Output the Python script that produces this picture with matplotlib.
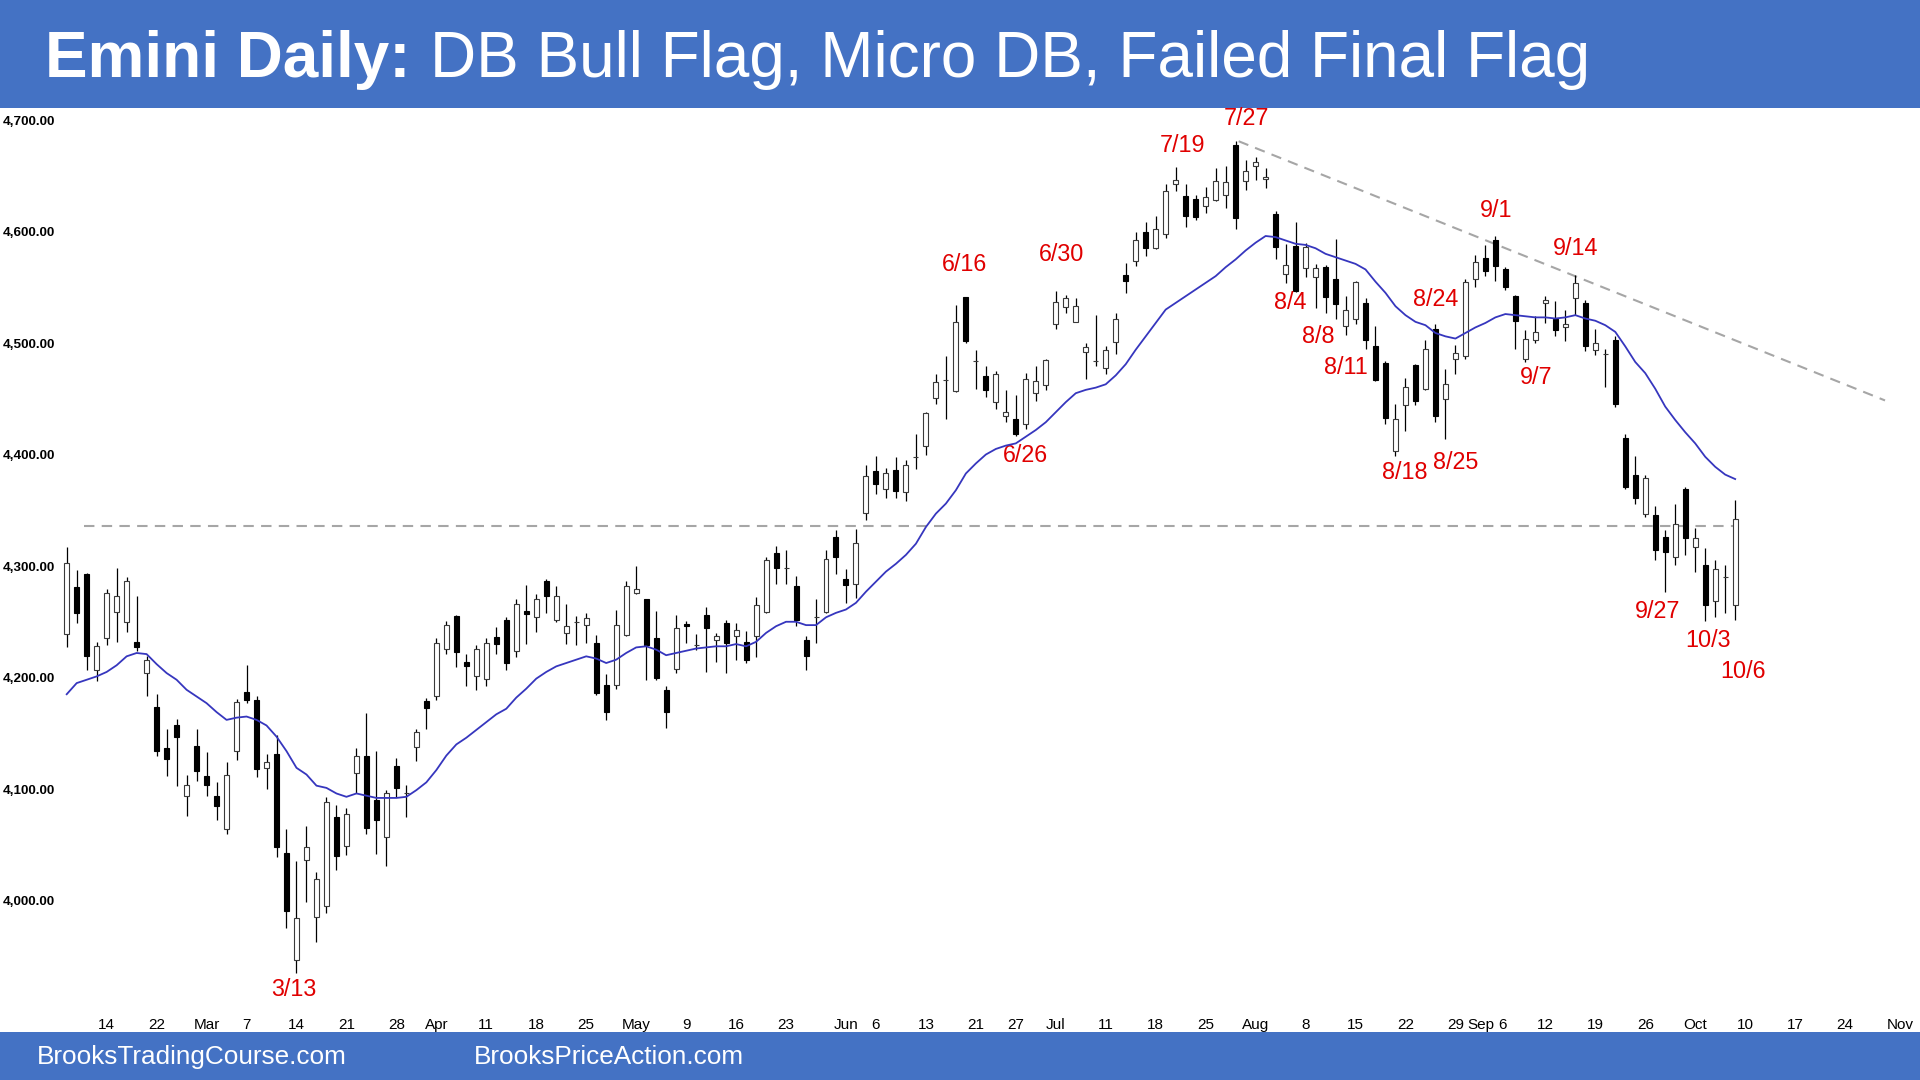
import numpy as np
import matplotlib
matplotlib.use('Agg')
import matplotlib.pyplot as plt
from matplotlib.patches import Rectangle
from matplotlib import font_manager

# ---------------- data ----------------
opens = [4239, 4281, 4293, 4207, 4235, 4259, 4250, 4232, 4204, 4174,
         4137, 4157, 4094, 4139, 4112, 4094, 4064, 4134, 4187, 4180,
         4119, 4131, 4043, 3947, 4036, 3985, 3995, 4075, 4049, 4114,
         4130, 4090, 4057, 4121, 4096, 4138, 4179, 4183, 4226, 4255,
         4214, 4201, 4199, 4236, 4252, 4224, 4260, 4254, 4287, 4252,
         4240, 4250, 4247, 4231, 4193, 4193, 4238, 4276, 4270, 4235,
         4189, 4208, 4248, 4229, 4256, 4234, 4249, 4237, 4232, 4237,
         4259, 4312, 4298, 4282, 4234, 4254, 4259, 4326, 4288, 4284,
         4348, 4385, 4369, 4386, 4366, 4398, 4408, 4451, 4467, 4457,
         4541, 4484, 4470, 4447, 4435, 4432, 4427, 4455, 4462, 4517,
         4532, 4519, 4492, 4484, 4478, 4501, 4561, 4574, 4600, 4585,
         4598, 4643, 4632, 4629, 4623, 4628, 4633, 4678, 4645, 4659,
         4647, 4616, 4562, 4587, 4567, 4559, 4568, 4557, 4515, 4522,
         4536, 4497, 4482, 4403, 4444, 4480, 4459, 4513, 4450, 4486,
         4488, 4557, 4576, 4592, 4566, 4542, 4486, 4503, 4536, 4522,
         4514, 4540, 4536, 4494, 4490, 4503, 4415, 4382, 4347, 4346,
         4326, 4308, 4369, 4317, 4301, 4269, 4290, 4265]
highs = [4317, 4296, 4294, 4232, 4279, 4298, 4290, 4273, 4219, 4185,
         4154, 4163, 4113, 4154, 4133, 4106, 4124, 4181, 4211, 4183,
         4131, 4148, 4064, 4035, 4067, 4026, 4093, 4086, 4083, 4137,
         4168, 4134, 4099, 4128, 4104, 4154, 4182, 4235, 4251, 4256,
         4221, 4229, 4235, 4245, 4254, 4270, 4283, 4275, 4288, 4282,
         4266, 4255, 4258, 4238, 4203, 4261, 4287, 4300, 4270, 4260,
         4192, 4256, 4251, 4239, 4263, 4240, 4252, 4249, 4242, 4272,
         4308, 4318, 4314, 4291, 4237, 4270, 4314, 4332, 4297, 4333,
         4391, 4399, 4388, 4398, 4395, 4418, 4438, 4472, 4488, 4534,
         4541, 4494, 4479, 4475, 4458, 4453, 4473, 4479, 4486, 4547,
         4543, 4540, 4500, 4525, 4497, 4527, 4572, 4600, 4609, 4614,
         4643, 4658, 4643, 4633, 4640, 4657, 4659, 4681, 4664, 4667,
         4657, 4618, 4589, 4609, 4590, 4571, 4570, 4593, 4542, 4556,
         4540, 4515, 4484, 4445, 4469, 4481, 4503, 4517, 4477, 4498,
         4557, 4579, 4588, 4596, 4568, 4543, 4512, 4524, 4542, 4538,
         4530, 4561, 4539, 4513, 4495, 4506, 4418, 4399, 4382, 4354,
         4332, 4356, 4371, 4334, 4316, 4305, 4301, 4359]
lows = [4227, 4249, 4207, 4197, 4229, 4232, 4241, 4224, 4183, 4130,
        4112, 4103, 4076, 4107, 4094, 4072, 4060, 4126, 4177, 4111,
        4100, 4039, 3975, 3935, 3999, 3963, 3989, 4027, 4041, 4096,
        4060, 4042, 4031, 4093, 4075, 4125, 4154, 4180, 4221, 4209,
        4192, 4189, 4192, 4221, 4207, 4218, 4230, 4241, 4258, 4250,
        4230, 4229, 4231, 4184, 4162, 4190, 4237, 4275, 4198, 4198,
        4155, 4204, 4231, 4225, 4205, 4214, 4204, 4216, 4213, 4218,
        4258, 4284, 4284, 4246, 4207, 4231, 4258, 4293, 4267, 4271,
        4341, 4365, 4361, 4361, 4358, 4387, 4400, 4445, 4432, 4456,
        4500, 4459, 4452, 4441, 4429, 4417, 4423, 4448, 4458, 4513,
        4527, 4519, 4468, 4479, 4472, 4490, 4545, 4569, 4578, 4584,
        4594, 4636, 4604, 4610, 4617, 4627, 4621, 4602, 4637, 4646,
        4639, 4575, 4554, 4546, 4559, 4531, 4527, 4522, 4507, 4517,
        4495, 4466, 4427, 4399, 4421, 4444, 4458, 4429, 4414, 4472,
        4486, 4550, 4560, 4556, 4548, 4495, 4483, 4500, 4518, 4506,
        4502, 4525, 4493, 4489, 4461, 4443, 4369, 4356, 4344, 4305,
        4277, 4301, 4310, 4295, 4251, 4254, 4258, 4252]
closes = [4303, 4258, 4219, 4228, 4276, 4273, 4287, 4227, 4216, 4134,
          4127, 4147, 4104, 4116, 4104, 4085, 4113, 4178, 4180, 4118,
          4124, 4048, 3991, 3984, 4048, 4019, 4088, 4040, 4078, 4130,
          4065, 4072, 4096, 4101, 4096, 4151, 4173, 4231, 4247, 4223,
          4210, 4226, 4231, 4230, 4213, 4266, 4257, 4270, 4273, 4273,
          4246, 4250, 4253, 4186, 4169, 4247, 4282, 4279, 4229, 4200,
          4169, 4244, 4246, 4229, 4244, 4237, 4231, 4243, 4216, 4265,
          4305, 4298, 4298, 4252, 4219, 4254, 4306, 4308, 4283, 4321,
          4381, 4374, 4383, 4367, 4391, 4398, 4437, 4465, 4467, 4519,
          4502, 4484, 4458, 4472, 4438, 4418, 4468, 4466, 4485, 4537,
          4540, 4533, 4496, 4484, 4494, 4522, 4556, 4592, 4585, 4602,
          4636, 4646, 4614, 4613, 4631, 4645, 4644, 4612, 4654, 4662,
          4649, 4586, 4570, 4547, 4586, 4567, 4541, 4535, 4530, 4555,
          4503, 4467, 4433, 4432, 4461, 4448, 4495, 4435, 4463, 4491,
          4555, 4573, 4565, 4569, 4550, 4520, 4504, 4510, 4539, 4512,
          4517, 4554, 4497, 4500, 4490, 4445, 4371, 4361, 4379, 4314,
          4313, 4338, 4325, 4325, 4265, 4297, 4290, 4342]
ema20 = [4185, 4195, 4198, 4201, 4205, 4211, 4219, 4222, 4221, 4212,
         4204, 4198, 4189, 4183, 4177, 4169, 4162, 4164, 4165, 4162,
         4157, 4147, 4134, 4119, 4113, 4103, 4101, 4096, 4093, 4096,
         4094, 4092, 4092, 4092, 4093, 4099, 4106, 4117, 4130, 4140,
         4146, 4153, 4160, 4167, 4172, 4182, 4190, 4199, 4205, 4210,
         4213, 4216, 4219, 4217, 4213, 4216, 4222, 4227, 4228, 4225,
         4220, 4222, 4224, 4226, 4227, 4228, 4228, 4230, 4228, 4232,
         4240, 4246, 4250, 4250, 4247, 4247, 4254, 4258, 4261, 4267,
         4277, 4286, 4295, 4302, 4310, 4320, 4335, 4347, 4356, 4368,
         4383, 4392, 4400, 4405, 4408, 4410, 4416, 4422, 4429, 4438,
         4447, 4455, 4458, 4460, 4463, 4471, 4481, 4494, 4506, 4518,
         4530, 4536, 4542, 4548, 4554, 4560, 4568, 4575, 4583, 4590,
         4596, 4595, 4592, 4589, 4588, 4585, 4580, 4577, 4574, 4571,
         4566, 4555, 4545, 4533, 4525, 4519, 4516, 4509, 4506, 4504,
         4509, 4514, 4518, 4523, 4526, 4525, 4524, 4523, 4523, 4522,
         4523, 4525, 4522, 4520, 4516, 4510, 4497, 4483, 4473, 4459,
         4443, 4431, 4420, 4410, 4398, 4389, 4382, 4378]

xtick_labels = ['14', '22', 'Mar', '7', '14', '21', '28', 'Apr', '11', '18',
                '25', 'May', '9', '16', '23', 'Jun', '6', '13', '21', '27',
                'Jul', '11', '18', '25', 'Aug', '8', '15', '22', '29', 'Sep',
                '6', '12', '19', '26', 'Oct', '10', '17', '24', 'Nov']
xtick_pos = [4, 9, 14, 18, 23, 28, 33, 37, 42, 47,
             52, 57, 62, 67, 72, 78, 81, 86, 91, 95,
             99, 104, 109, 114, 119, 124, 129, 134, 139, 141.5,
             143.7, 148, 153, 158, 163, 168, 173, 178, 183.5]
ytick_values = [4000, 4100, 4200, 4300, 4400, 4500, 4600, 4700]

support_level = 4336          # horizontal dashed line
support_span = [1.7, 167.4]
trend_end = (182.0, 4448.5)    # bear trend line from the 7/27 high

ann_labels = ['7/27', '7/19', '6/16', '6/30', '6/26', '9/1', '9/14', '8/24',
              '8/4', '8/8', '8/11', '9/7', '8/18', '8/25', '9/27', '10/3',
              '10/6', '3/13']
ann_x = [118.1, 111.7, 89.9, 99.6, 96.0, 143.1, 151.0, 137.0,
         122.5, 125.3, 128.0, 147.1, 133.9, 139.0, 159.2, 164.3,
         167.8, 22.7]
ann_y = [4701, 4677, 4570, 4579, 4399, 4619, 4585, 4539,
         4536, 4506, 4478, 4469, 4384, 4393, 4259, 4233,
         4205, 3920]

# ---------------- fonts ----------------
avail = {f.name for f in font_manager.fontManager.ttflist}
def pick(fams):
    got = [f for f in fams if f in avail]
    return got + ['DejaVu Sans']
SANS = pick(['Liberation Sans', 'Arial'])
NARROW = pick(['Liberation Sans Narrow', 'Liberation Sans'])
plt.rcParams['font.family'] = SANS

W, H = 1920, 1080
BLUE = '#4472C4'
fig = plt.figure(figsize=(W / 100, H / 100), dpi=100)
fig.patch.set_facecolor('white')

ax = fig.add_axes([60 / W, 1 - 1012 / H, 1 - 60 / W, (1012 - 108) / H])
ax.set_xlim(-0.67, 185.5)
ax.set_ylim(3900, 4710.8)
for s in ax.spines.values():
    s.set_visible(False)

o = np.array(opens, float); h = np.array(highs, float)
l = np.array(lows, float); c = np.array(closes, float)
x = np.arange(len(o))
up = c >= o

ax.vlines(x, l, h, color='black', lw=0.9, zorder=2)
bot = np.minimum(o, c)
hgt = np.abs(c - o)
ax.bar(x[up], hgt[up], bottom=bot[up], width=0.5, facecolor='white',
       edgecolor='#3a3a3a', lw=0.8, zorder=3)
ax.bar(x[~up], hgt[~up], bottom=bot[~up], width=0.5, facecolor='black',
       edgecolor='black', lw=0.8, zorder=3)

ax.plot(x, ema20, color='#3636BE', lw=1.3, zorder=4)

ax.hlines(support_level, support_span[0], support_span[1], colors='#a6a6a6',
          lw=1.5, linestyles=(0, (5, 3.5)), zorder=1)
i_top = int(np.argmax(h))
ax.plot([i_top + 0.3, trend_end[0]], [h[i_top], trend_end[1]], color='#a6a6a6',
        lw=1.5, ls=(0, (5, 3.5)), zorder=1)

for s, xx, yy in zip(ann_labels, ann_x, ann_y):
    ax.text(xx, yy, s, color='#E00000', fontsize=16.8, ha='center', va='center',
            family=SANS)

ax.set_yticks(ytick_values)
ax.set_yticklabels([f'{v:,.2f}' for v in ytick_values], fontsize=9.7,
                   fontweight='bold', family=SANS)
ax.tick_params(axis='y', length=0, pad=3.5)
ax.set_xticks(xtick_pos)
ax.set_xticklabels(xtick_labels, fontsize=11, family=NARROW)
ax.tick_params(axis='x', length=0, pad=4)

# title bar
fig.add_artist(Rectangle((0, 1 - 108 / H), 1, 108 / H, transform=fig.transFigure,
                         facecolor=BLUE, edgecolor='none', zorder=0))
t1 = fig.text(45 / W, 1 - 77 / H, 'Emini Daily:', fontsize=46, fontweight='bold',
              color='white', va='baseline', family=SANS)
fig.canvas.draw()
bb = t1.get_window_extent()
fig.text((bb.x1 + 20) / W, 1 - 77 / H, 'DB Bull Flag, Micro DB, Failed Final Flag',
         fontsize=46, color='white', va='baseline', family=SANS)

# footer bar
fig.add_artist(Rectangle((0, 0), 1, 48 / H, transform=fig.transFigure,
                         facecolor=BLUE, edgecolor='none', zorder=0))
fig.text(37 / W, 1 - 1057 / H, 'BrooksTradingCourse.com', fontsize=18.8,
         color='white', va='center', family=SANS)
fig.text(474 / W, 1 - 1057 / H, 'BrooksPriceAction.com', fontsize=18.8,
         color='white', va='center', family=SANS)

fig.savefig('out.png', dpi=100)
